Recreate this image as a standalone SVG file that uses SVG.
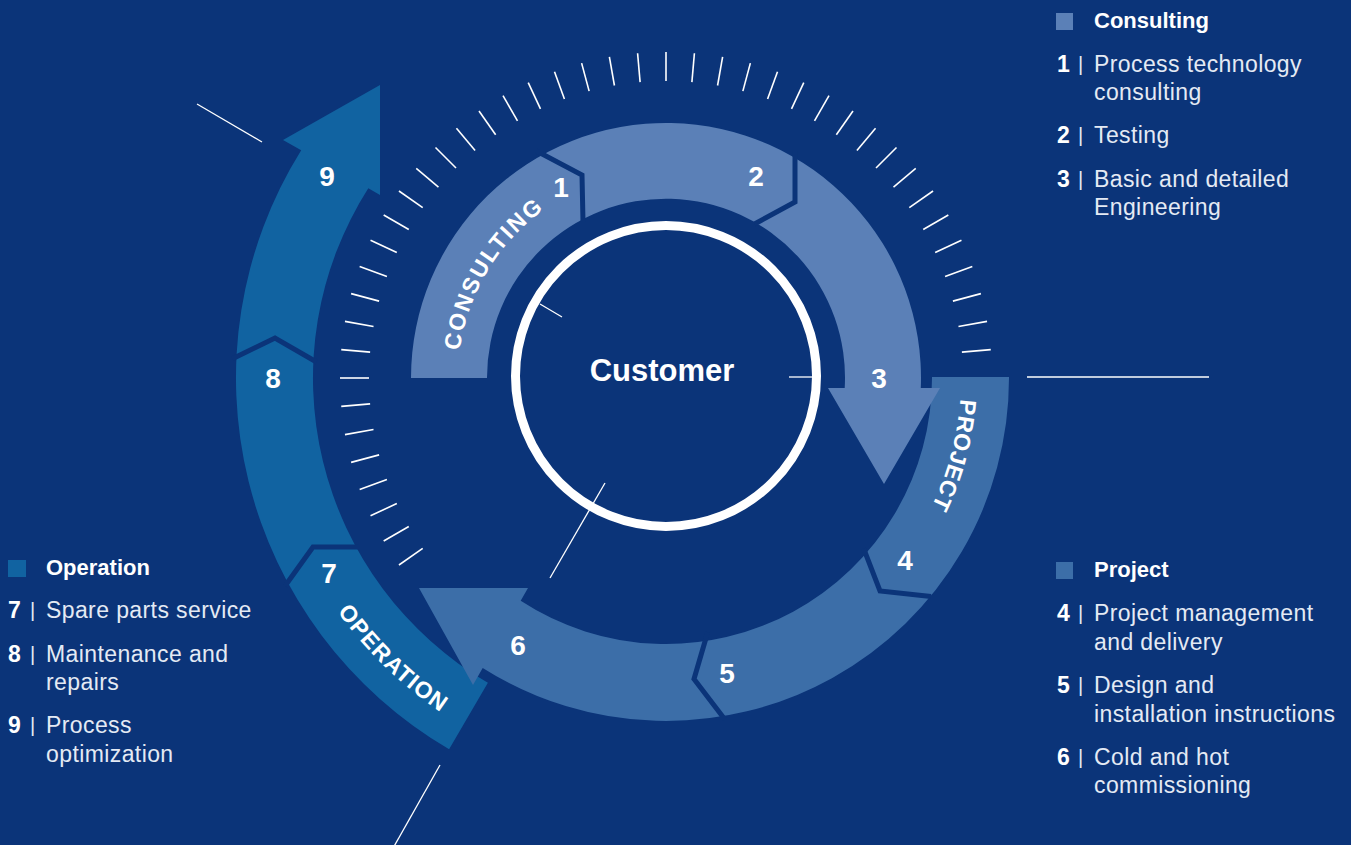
<svg xmlns="http://www.w3.org/2000/svg" xmlns:xlink="http://www.w3.org/1999/xlink" width="1351" height="845" viewBox="0 0 1351 845">
<style>
.bg{fill:#0b3479}
.ca{fill:#5b80b7}
.cb{fill:#3c6ea8}
.cc{fill:#1163a1}
.sep{fill:none;stroke:#0b3479;stroke-width:5;stroke-linejoin:miter}
.tick{stroke:#ffffff;stroke-width:1.6}
.conn{stroke:#ffffff;stroke-width:1.3;fill:none}
.num{font-family:"Liberation Sans",Arial,sans-serif;font-weight:bold;font-size:28px;fill:#ffffff;text-anchor:middle}
.ring{font-family:"Liberation Sans",Arial,sans-serif;font-weight:bold;font-size:23px;fill:#ffffff;text-anchor:middle}
.lh{font-family:"Liberation Sans",Arial,sans-serif;font-weight:bold;font-size:22px;fill:#ffffff}
.ln{font-family:"Liberation Sans",Arial,sans-serif;font-weight:bold;font-size:23px;fill:#ffffff}
.lt{font-family:"Liberation Sans",Arial,sans-serif;font-size:23px;fill:#e4eaf4;letter-spacing:0.4px}
.bar{font-family:"Liberation Sans",Arial,sans-serif;font-size:20px;fill:#e4eaf4}
</style>
<defs>
<line id="tk" class="tick" x1="963" y1="378" x2="992" y2="378"/>
<path id="pConsult" d="M 464.2,428.3 A 208 208 0 0 1 615.7,176.2"/>
<path id="pProject" d="M 921.5,230.5 A 295 295 0 0 1 813.5,633.5"/>
<path id="pOperation" d="M 263,383.3 A 403 403 0 0 0 671.3,781"/>
</defs>
<rect class="bg" x="0" y="0" width="1351" height="845"/>

<g id="ticks">
<use xlink:href="#tk" transform="rotate(145 666 378)"/>
<use xlink:href="#tk" transform="rotate(150 666 378)"/>
<use xlink:href="#tk" transform="rotate(155 666 378)"/>
<use xlink:href="#tk" transform="rotate(160 666 378)"/>
<use xlink:href="#tk" transform="rotate(165 666 378)"/>
<use xlink:href="#tk" transform="rotate(170 666 378)"/>
<use xlink:href="#tk" transform="rotate(175 666 378)"/>
<use xlink:href="#tk" transform="rotate(180 666 378)"/>
<use xlink:href="#tk" transform="rotate(185 666 378)"/>
<use xlink:href="#tk" transform="rotate(190 666 378)"/>
<use xlink:href="#tk" transform="rotate(195 666 378)"/>
<use xlink:href="#tk" transform="rotate(200 666 378)"/>
<use xlink:href="#tk" transform="rotate(205 666 378)"/>
<use xlink:href="#tk" transform="rotate(210 666 378)"/>
<use xlink:href="#tk" transform="rotate(215 666 378)"/>
<use xlink:href="#tk" transform="rotate(220 666 378)"/>
<use xlink:href="#tk" transform="rotate(225 666 378)"/>
<use xlink:href="#tk" transform="rotate(230 666 378)"/>
<use xlink:href="#tk" transform="rotate(235 666 378)"/>
<use xlink:href="#tk" transform="rotate(240 666 378)"/>
<use xlink:href="#tk" transform="rotate(245 666 378)"/>
<use xlink:href="#tk" transform="rotate(250 666 378)"/>
<use xlink:href="#tk" transform="rotate(255 666 378)"/>
<use xlink:href="#tk" transform="rotate(260 666 378)"/>
<use xlink:href="#tk" transform="rotate(265 666 378)"/>
<use xlink:href="#tk" transform="rotate(270 666 378)"/>
<use xlink:href="#tk" transform="rotate(275 666 378)"/>
<use xlink:href="#tk" transform="rotate(280 666 378)"/>
<use xlink:href="#tk" transform="rotate(285 666 378)"/>
<use xlink:href="#tk" transform="rotate(290 666 378)"/>
<use xlink:href="#tk" transform="rotate(295 666 378)"/>
<use xlink:href="#tk" transform="rotate(300 666 378)"/>
<use xlink:href="#tk" transform="rotate(305 666 378)"/>
<use xlink:href="#tk" transform="rotate(310 666 378)"/>
<use xlink:href="#tk" transform="rotate(315 666 378)"/>
<use xlink:href="#tk" transform="rotate(320 666 378)"/>
<use xlink:href="#tk" transform="rotate(325 666 378)"/>
<use xlink:href="#tk" transform="rotate(330 666 378)"/>
<use xlink:href="#tk" transform="rotate(335 666 378)"/>
<use xlink:href="#tk" transform="rotate(340 666 378)"/>
<use xlink:href="#tk" transform="rotate(345 666 378)"/>
<use xlink:href="#tk" transform="rotate(350 666 378)"/>
<use xlink:href="#tk" transform="rotate(355 666 378)"/>
</g>

<g id="connectors">
<line class="conn" x1="540" y1="304" x2="562" y2="317"/>
<line class="conn" x1="262" y1="142" x2="197" y2="104"/>
<line class="conn" x1="789" y1="377" x2="812" y2="377"/>
<line class="conn" x1="1027" y1="377" x2="1209" y2="377"/>
<line class="conn" x1="605" y1="483" x2="550" y2="578"/>
<line class="conn" x1="440" y1="765" x2="392" y2="850"/>
</g>

<g id="operation-ring">
<path class="cc" d="M 449.1,749.3 A 430 430 0 0 1 301.2,150.3 L 283,140 L 380,85 L 380,195 L 368.3,188.3 A 353 353 0 0 0 487.9,682.8 Z"/>
<polyline class="sep" points="359,547 313,547 285,586"/>
<polyline class="sep" points="316.5,362 275,338 232.4,358.8"/>
<text class="ring" letter-spacing="1.2"><textPath xlink:href="#pOperation" startOffset="50%">OPERATION</textPath></text>
<text class="num" x="329" y="583">7</text>
<text class="num" x="273" y="388">8</text>
<text class="num" x="327" y="186">9</text>
</g>

<g id="project-ring">
<path class="cb" d="M 1009,377 A 343 343 0 0 1 482.7,667.9 L 473,685 L 419,588 L 528,588 L 520.7,600.8 A 266 266 0 0 0 932,377 Z"/>
<polyline class="sep" points="863.6,548.3 880,591 931,596.4"/>
<polyline class="sep" points="707.7,632.2 694,679 724.9,719.4"/>
<text class="ring" letter-spacing="0.5"><textPath xlink:href="#pProject" startOffset="50%">PROJECT</textPath></text>
<text class="num" x="905" y="570">4</text>
<text class="num" x="727" y="683">5</text>
<text class="num" x="518" y="655">6</text>
</g>

<g id="consulting-ring">
<path class="ca" d="M 411,378 A 255 255 0 1 1 920.8,388 L 940,388 L 884,484 L 828,388 L 844.7,388 A 179 179 0 1 0 487,378 Z"/>
<polyline class="sep" points="583,222 582,175 536.5,151"/>
<polyline class="sep" points="754.5,224 795,202 795,151"/>
<text class="ring" letter-spacing="2"><textPath xlink:href="#pConsult" startOffset="50%">CONSULTING</textPath></text>
<text class="num" x="561" y="197">1</text>
<text class="num" x="756" y="186">2</text>
<text class="num" x="879" y="388">3</text>
</g>

<g id="customer">
<circle cx="666" cy="376" r="150.5" fill="none" stroke="#ffffff" stroke-width="9"/>
<text x="662" y="381" font-family="Liberation Sans, Arial, sans-serif" font-weight="bold" font-size="31" fill="#ffffff" text-anchor="middle">Customer</text>
</g>

<g id="legend-consulting">
<rect class="ca" x="1056" y="13" width="17" height="17"/>
<text class="lh" x="1094" y="28">Consulting</text>
<text class="ln" x="1057" y="72">1</text><text class="bar" x="1078" y="71">|</text><text class="lt" x="1094" y="72">Process technology</text>
<text class="lt" x="1094" y="100">consulting</text>
<text class="ln" x="1057" y="143">2</text><text class="bar" x="1078" y="142">|</text><text class="lt" x="1094" y="143">Testing</text>
<text class="ln" x="1057" y="187">3</text><text class="bar" x="1078" y="186">|</text><text class="lt" x="1094" y="187">Basic and detailed</text>
<text class="lt" x="1094" y="215">Engineering</text>
</g>

<g id="legend-project">
<rect class="cb" x="1056" y="562" width="17" height="17"/>
<text class="lh" x="1094" y="577">Project</text>
<text class="ln" x="1057" y="621">4</text><text class="bar" x="1078" y="620">|</text><text class="lt" x="1094" y="621">Project management</text>
<text class="lt" x="1094" y="650">and delivery</text>
<text class="ln" x="1057" y="693">5</text><text class="bar" x="1078" y="692">|</text><text class="lt" x="1094" y="693">Design and</text>
<text class="lt" x="1094" y="722">installation instructions</text>
<text class="ln" x="1057" y="765">6</text><text class="bar" x="1078" y="764">|</text><text class="lt" x="1094" y="765">Cold and hot</text>
<text class="lt" x="1094" y="793">commissioning</text>
</g>

<g id="legend-operation">
<rect class="cc" x="8" y="560" width="18" height="17"/>
<text class="lh" x="46" y="575">Operation</text>
<text class="ln" x="8" y="618">7</text><text class="bar" x="30" y="617">|</text><text class="lt" x="46" y="618">Spare parts service</text>
<text class="ln" x="8" y="662">8</text><text class="bar" x="30" y="661">|</text><text class="lt" x="46" y="662">Maintenance and</text>
<text class="lt" x="46" y="690">repairs</text>
<text class="ln" x="8" y="733">9</text><text class="bar" x="30" y="732">|</text><text class="lt" x="46" y="733">Process</text>
<text class="lt" x="46" y="762">optimization</text>
</g>
</svg>
